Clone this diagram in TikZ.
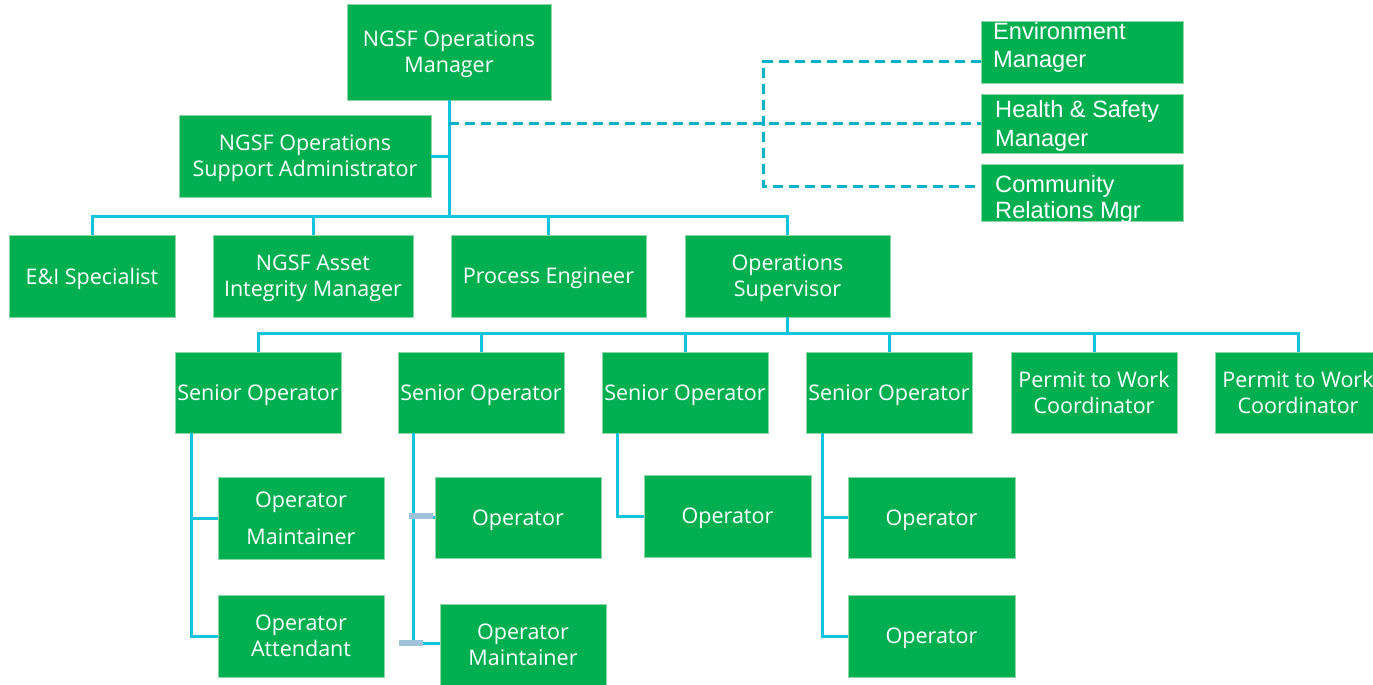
\documentclass[tikz,border=0pt]{standalone}
\usepackage{fontspec}
\setmainfont{Open Sans}
\newfontfamily\arialfont{Liberation Sans}
\definecolor{boxgreen}{RGB}{0,176,80}
\definecolor{boxedge}{RGB}{140,215,165}
\definecolor{linecyan}{RGB}{20,195,220}
\definecolor{dashcyan}{RGB}{0,178,200}
\definecolor{tickgray}{RGB}{158,194,218}
\begin{document}
\begin{tikzpicture}[x=1pt,y=-1pt,
  box/.style={fill=boxgreen, draw=boxedge, line width=0.5pt, text=white, align=center, inner sep=0pt,
    text depth=0pt, font=\fontsize{21.5}{26}\selectfont},
  rbox/.style={fill=boxgreen, draw=boxedge, line width=0.5pt, inner sep=0pt, minimum width=202pt},
  rtext/.style={text=white, inner sep=0pt, anchor=base west, font=\arialfont\fontsize{23.6}{27}\selectfont},
  conn/.style={draw=linecyan, line width=3pt},
  dconn/.style={draw=dashcyan, line width=3pt, dash pattern=on 10pt off 6pt},
  tickmark/.style={draw=tickgray, line width=6pt},
  lvl/.style={minimum width=166pt, minimum height=82pt}
]
\useasboundingbox (0,0) rectangle (1373,685);

% top
\node[box, minimum width=204pt, minimum height=96pt] (mgr) at (449,52) {NGSF Operations\\Manager};
\node[box, minimum width=252pt, minimum height=82pt] (admin) at (305,156) {NGSF Operations\\Support Administrator};

% right boxes
\node[rbox, minimum height=62pt] (env) at (1082,52) {};
\node[rbox, minimum height=59pt] (hs) at (1082,123.5) {};
\node[rbox, minimum height=57pt] (cr) at (1082,192.5) {};
\node[rtext] (envt1) at (993,40) {Environment};
\node[rtext] (envt2) at (993,67) {Manager};
\node[rtext] (hst1) at (995,117) {Health \& Safety};
\node[rtext] (hst2) at (995,146) {Manager};
\begin{scope}
  \clip (cr.north west) rectangle (cr.south east);
  \node[rtext] (crt1) at (995,192) {Community};
  \node[rtext] (crt2) at (995,218) {Relations Mgr};
\end{scope}

% level 2
\node[box, minimum width=166pt, minimum height=82pt] (ei) at (92,276) {E\&I Specialist};
\node[box, minimum width=200pt, minimum height=82pt] (asset) at (313,276) {NGSF Asset\\Integrity Manager};
\node[box, minimum width=195pt, minimum height=82pt] (proc) at (548.5,276) {Process Engineer};
\node[box, minimum width=205pt, minimum height=82pt] (opsup) at (787.5,276) {Operations\\Supervisor};

% level 3
\node[box, lvl, minimum height=81pt] (s1) at (258,392.5) {Senior Operator};
\node[box, lvl, minimum height=81pt] (s2) at (481,392.5) {Senior Operator};
\node[box, lvl, minimum height=81pt] (s3) at (685,392.5) {Senior Operator};
\node[box, lvl, minimum height=81pt] (s4) at (889,392.5) {Senior Operator};
\node[box, lvl, minimum height=81pt] (p1) at (1094,392.5) {Permit to Work\\Coordinator};
\node[box, lvl, minimum height=81pt] (p2) at (1298,392.5) {Permit to Work\\Coordinator};

% level 4
\node[box, lvl, font=\fontsize{21.5}{37}\selectfont] (om1) at (301,518) {Operator\\Maintainer};
\node[box, lvl] (oa1) at (301,636) {Operator\\Attendant};
\node[box, lvl, minimum height=81pt] (o2) at (518,517.5) {Operator};
\node[box, lvl] (om2) at (523,645) {Operator\\Maintainer};
\node[box, lvl, minimum width=167pt] (o3) at (727.5,516) {Operator};
\node[box, lvl, minimum width=167pt, minimum height=81pt] (o4a) at (931.5,517.5) {Operator};
\node[box, lvl, minimum width=167pt] (o4b) at (931.5,636) {Operator};

% coordinates
\coordinate (bus1) at (0,216);
\coordinate (bus2) at (0,333);
\coordinate (dv) at (763,125);
\coordinate (v1) at (191,0);
\coordinate (v2) at (413,0);
\coordinate (v3) at (617,0);
\coordinate (v4) at (822,0);

% top connectors
\draw[conn] (mgr.south) -- (mgr.south |- bus1);
\draw[conn] (admin.east) -- (admin.east -| mgr.south);
\draw[dconn] (hs.west -| mgr.south) -- (hs.west);
\draw[dconn] ([yshift=-10pt]env.west) -| (dv) |- ([yshift=6.5pt]cr.west);

% level 2 bus
\draw[conn] (ei.north) -- (ei.north |- bus1) -- (opsup.north |- bus1) -- (opsup.north);
\draw[conn] (asset.north) -- (asset.north |- bus1);
\draw[conn] (proc.north) -- (proc.north |- bus1);

% level 3 bus
\draw[conn] (opsup.south) -- (opsup.south |- bus2);
\draw[conn] (s1.north) -- (s1.north |- bus2) -- (p2.north |- bus2) -- (p2.north);
\draw[conn] (s2.north) -- (s2.north |- bus2);
\draw[conn] (s3.north) -- (s3.north |- bus2);
\draw[conn] (s4.north) -- (s4.north |- bus2);
\draw[conn] (p1.north) -- (p1.north |- bus2);

% level 4 connectors
\draw[conn] (s1.south -| v1) |- (oa1.west);
\draw[conn] (om1.west -| v1) -- (om1.west);
\draw[conn] (s2.south -| v2) |- ([yshift=2pt]om2.west);
\draw[conn] (o2.west -| v2) -- (o2.west);
\draw[tickmark] ([xshift=-26pt,yshift=1.5pt]o2.west) -- ([xshift=-2pt,yshift=1.5pt]o2.west);
\draw[tickmark] ([xshift=-41pt,yshift=2pt]om2.west) -- ([xshift=-17pt,yshift=2pt]om2.west);
\draw[conn] (s3.south -| v3) |- (o3.west);
\draw[conn] (s4.south -| v4) |- (o4b.west);
\draw[conn] (o4a.west -| v4) -- (o4a.west);
\end{tikzpicture}
\end{document}
